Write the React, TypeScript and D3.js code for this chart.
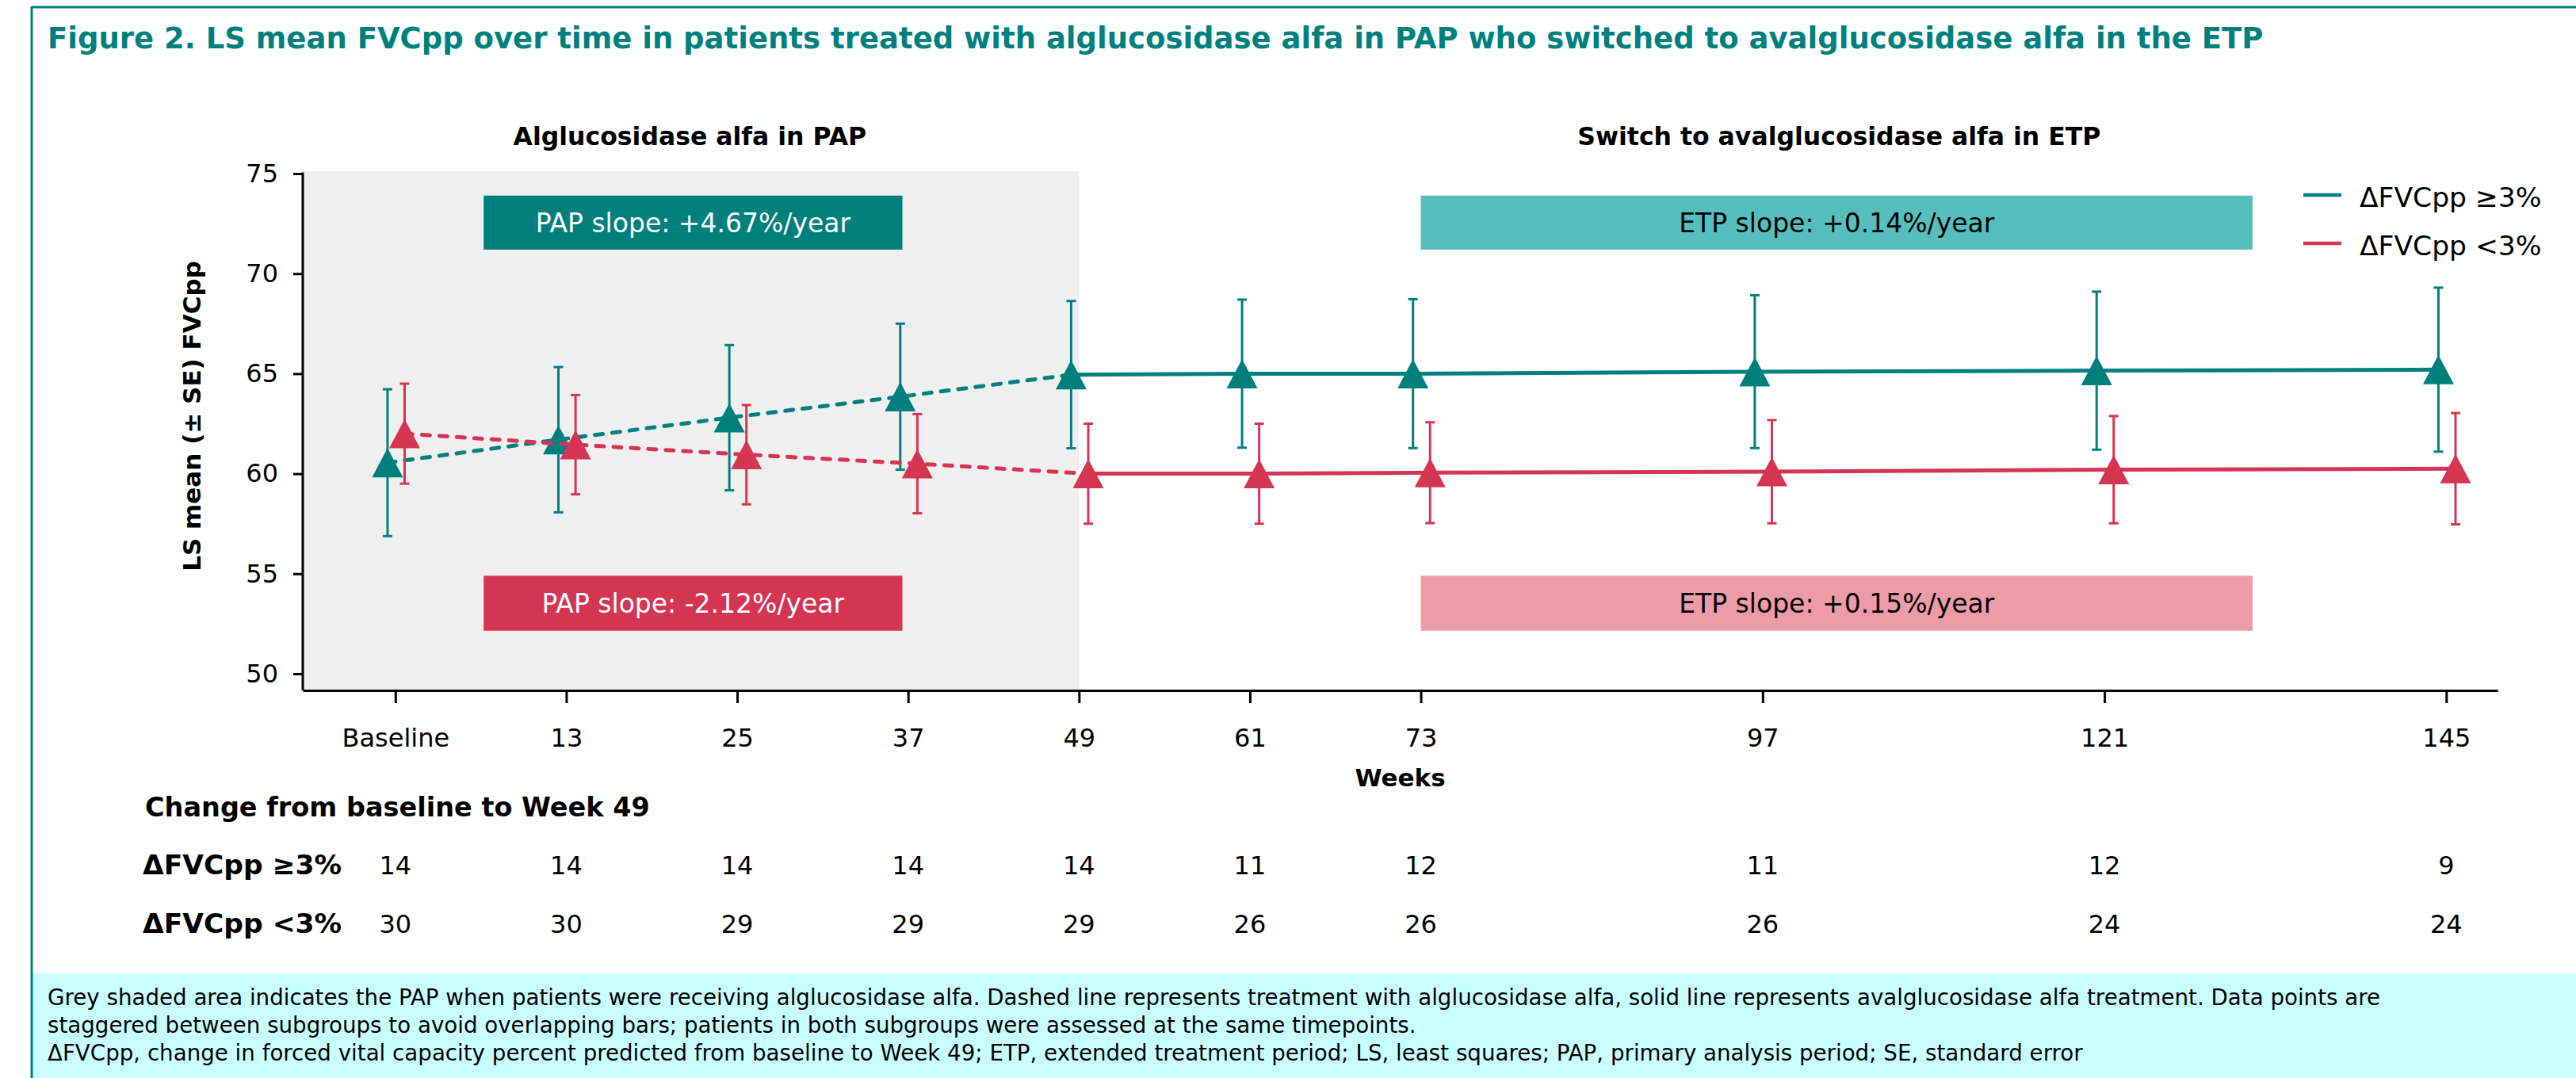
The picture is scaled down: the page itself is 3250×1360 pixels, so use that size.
import React, { useEffect, useRef } from 'react';
import * as d3 from 'd3';

// Timepoints (weeks) and their axis labels
const weeks = [1, 13, 25, 37, 49, 61, 73, 97, 121, 145];
const weekLabels = ['Baseline', '13', '25', '37', '49', '61', '73', '97', '121', '145'];

// LS mean FVCpp and SE, ΔFVCpp ≥3% subgroup
const highMean = [60.55, 61.7, 62.8, 63.85, 64.95, 65.0, 65.0, 65.1, 65.15, 65.2];
const highSE = [3.67, 3.63, 3.63, 3.65, 3.68, 3.7, 3.72, 3.82, 3.95, 4.1];

// LS mean FVCpp and SE, ΔFVCpp <3% subgroup
const lowMean = [62.0, 61.45, 60.95, 60.5, 60.0, 60.0, 60.05, 60.1, 60.2, 60.25];
const lowSE = [2.5, 2.48, 2.48, 2.48, 2.5, 2.5, 2.52, 2.58, 2.68, 2.78];

// Number of patients at each timepoint
const highN = [14, 14, 14, 14, 14, 11, 12, 11, 12, 9];
const lowN = [30, 30, 29, 29, 29, 26, 26, 26, 24, 24];

const yTicks = [50, 55, 60, 65, 70, 75];
const switchWeek = 49;

const TEAL = '#00807d';
const RED = '#d43552';
const TEAL_LIGHT = '#56bfbe';
const PINK = '#ee9ba9';
const FONT = '"DejaVu Sans", Verdana, sans-serif';

const footnote = [
  'Grey shaded area indicates the PAP when patients were receiving alglucosidase alfa. Dashed line represents treatment with alglucosidase alfa, solid line represents avalglucosidase alfa treatment. Data points are',
  'staggered between subgroups to avoid overlapping bars; patients in both subgroups were assessed at the same timepoints.',
  'ΔFVCpp, change in forced vital capacity percent predicted from baseline to Week 49; ETP, extended treatment period; LS, least squares; PAP, primary analysis period; SE, standard error',
];

interface Series {
  name: string;
  color: string;
  mean: number[];
  se: number[];
  n: number[];
  offset: number; // stagger in weeks so the bars do not overlap
}

const series: Series[] = [
  { name: 'ΔFVCpp ≥3%', color: TEAL, mean: highMean, se: highSE, n: highN, offset: -0.55 },
  { name: 'ΔFVCpp <3%', color: RED, mean: lowMean, se: lowSE, n: lowN, offset: 0.65 },
];

export default function App() {
  const svgRef = useRef<SVGSVGElement>(null);

  useEffect(() => {
    if (!svgRef.current) return;
    const svg = d3.select(svgRef.current);
    svg.selectAll('*').remove();

    const W = 3250;
    const H = 1360;

    const x = d3.scaleLinear().domain([-5.5, 148.6]).range([382, 3151]);
    const y = d3.scaleLinear().domain([50, 75]).range([850, 219]);
    const axisY = 871;

    // frame + footnote band
    svg.append('rect').attr('x', 40).attr('y', 1228).attr('width', W - 40).attr('height', H - 1228).attr('fill', '#c9feff');
    svg.append('line').attr('x1', 40).attr('x2', W).attr('y1', 9).attr('y2', 9).attr('stroke', TEAL).attr('stroke-width', 3);
    svg.append('line').attr('x1', 40).attr('x2', 40).attr('y1', 8).attr('y2', H).attr('stroke', TEAL).attr('stroke-width', 3);

    svg.append('text')
      .attr('x', 60).attr('y', 61)
      .attr('font-size', 37).attr('font-weight', 'bold').attr('fill', TEAL)
      .text('Figure 2. LS mean FVCpp over time in patients treated with alglucosidase alfa in PAP who switched to avalglucosidase alfa in the ETP');

    // grey PAP region
    svg.append('rect')
      .attr('x', x.range()[0]).attr('y', y(75) - 3)
      .attr('width', x(switchWeek) - x.range()[0]).attr('height', axisY - y(75) + 3)
      .attr('fill', '#efefef');

    // slope boxes
    const boxes = [
      { x0: 7.2, x1: 36.6, y0: 71.2, y1: 73.9, fill: TEAL, color: '#fff', label: 'PAP slope: +4.67%/year' },
      { x0: 7.2, x1: 36.6, y0: 52.15, y1: 54.9, fill: RED, color: '#fff', label: 'PAP slope: -2.12%/year' },
      { x0: 73, x1: 131.4, y0: 71.2, y1: 73.9, fill: TEAL_LIGHT, color: '#000', label: 'ETP slope: +0.14%/year' },
      { x0: 73, x1: 131.4, y0: 52.15, y1: 54.9, fill: PINK, color: '#000', label: 'ETP slope: +0.15%/year' },
    ];
    boxes.forEach(b => {
      svg.append('rect')
        .attr('x', x(b.x0)).attr('y', y(b.y1))
        .attr('width', x(b.x1) - x(b.x0)).attr('height', y(b.y0) - y(b.y1))
        .attr('fill', b.fill);
      svg.append('text')
        .attr('x', (x(b.x0) + x(b.x1)) / 2).attr('y', (y(b.y0) + y(b.y1)) / 2 + 12)
        .attr('text-anchor', 'middle').attr('font-size', 33).attr('fill', b.color)
        .text(b.label);
    });

    // period headings
    svg.append('text')
      .attr('x', (x(7.2) + x(36.6)) / 2 - 4).attr('y', 183)
      .attr('text-anchor', 'middle').attr('font-size', 31.5).attr('font-weight', 'bold')
      .text('Alglucosidase alfa in PAP');
    svg.append('text')
      .attr('x', (x(73) + x(131.4)) / 2 + 3).attr('y', 183)
      .attr('text-anchor', 'middle').attr('font-size', 31.5).attr('font-weight', 'bold')
      .text('Switch to avalglucosidase alfa in ETP');

    // axes
    const yAxis = svg.append('g')
      .attr('transform', `translate(${x.range()[0]},0)`)
      .call(d3.axisLeft(y).tickValues(yTicks).tickSize(12).tickPadding(19));
    yAxis.select('.domain').remove();
    yAxis.selectAll('line').attr('stroke-width', 3);
    yAxis.selectAll('text').attr('font-size', 32).attr('font-family', FONT);
    svg.append('line')
      .attr('x1', x.range()[0]).attr('x2', x.range()[0])
      .attr('y1', y(75) - 1.5).attr('y2', axisY)
      .attr('stroke', '#000').attr('stroke-width', 3);

    const xAxis = svg.append('g')
      .attr('transform', `translate(0,${axisY})`)
      .call(d3.axisBottom(x).tickValues(weeks).tickFormat((_, i) => weekLabels[i]).tickSize(16).tickPadding(32).tickSizeOuter(0));
    xAxis.select('.domain').attr('stroke-width', 3);
    xAxis.selectAll('line').attr('stroke-width', 3);
    xAxis.selectAll('text').attr('font-size', 32).attr('font-family', FONT);

    svg.append('text')
      .attr('transform', `translate(253,525) rotate(-90)`)
      .attr('text-anchor', 'middle').attr('font-size', 31).attr('font-weight', 'bold')
      .text('LS mean (± SE) FVCpp');
    svg.append('text')
      .attr('x', (x.range()[0] + x.range()[1]) / 2).attr('y', 992)
      .attr('text-anchor', 'middle').attr('font-size', 31).attr('font-weight', 'bold')
      .text('Weeks');

    // series
    const tri = (cx: number, cy: number) => {
      const hw = 19.5, hh = 18.5;
      return `M${cx},${cy - hh}L${cx + hw},${cy + hh}L${cx - hw},${cy + hh}Z`;
    };
    series.forEach(s => {
      const pts = weeks.map((w, i) => ({ w, px: x(w + s.offset), m: s.mean[i], se: s.se[i] }));
      const g = svg.append('g');

      pts.forEach(p => {
        g.append('line')
          .attr('x1', p.px).attr('x2', p.px).attr('y1', y(p.m + p.se)).attr('y2', y(p.m - p.se))
          .attr('stroke', s.color).attr('stroke-width', 3);
        [p.m + p.se, p.m - p.se].forEach(v => {
          g.append('line')
            .attr('x1', p.px - 6).attr('x2', p.px + 6).attr('y1', y(v)).attr('y2', y(v))
            .attr('stroke', s.color).attr('stroke-width', 3);
        });
      });

      const line = d3.line<{ px: number; m: number }>().x(d => d.px).y(d => y(d.m));
      g.append('path')
        .datum(pts.filter(p => p.w <= switchWeek))
        .attr('d', line).attr('fill', 'none')
        .attr('stroke', s.color).attr('stroke-width', 5)
        .attr('stroke-linecap', 'round').attr('stroke-dasharray', '10,12');
      g.append('path')
        .datum(pts.filter(p => p.w >= switchWeek))
        .attr('d', line).attr('fill', 'none')
        .attr('stroke', s.color).attr('stroke-width', 5);

      pts.forEach(p => {
        g.append('path').attr('d', tri(p.px, y(p.m))).attr('fill', s.color);
      });
    });

    // legend
    series.forEach((s, i) => {
      const ly = 246 + i * 61;
      svg.append('line')
        .attr('x1', 2906).attr('x2', 2954).attr('y1', ly).attr('y2', ly)
        .attr('stroke', s.color).attr('stroke-width', 4.5);
      svg.append('text')
        .attr('x', 2977).attr('y', ly + 15)
        .attr('font-size', 34.5)
        .text(s.name);
    });

    // patients at risk table
    svg.append('text')
      .attr('x', 183).attr('y', 1030)
      .attr('font-size', 33.5).attr('font-weight', 'bold')
      .text('Change from baseline to Week 49');
    series.forEach((s, i) => {
      const ry = 1103 + i * 74;
      svg.append('text')
        .attr('x', 180).attr('y', ry)
        .attr('font-size', 34.5).attr('font-weight', 'bold')
        .text(s.name);
      s.n.forEach((n, j) => {
        svg.append('text')
          .attr('x', x(weeks[j])).attr('y', ry)
          .attr('text-anchor', 'middle').attr('font-size', 32)
          .text(n);
      });
    });

    // footnote
    footnote.forEach((t, i) => {
      svg.append('text')
        .attr('x', 60).attr('y', 1268 + i * 35)
        .attr('font-size', 27.7)
        .text(t);
    });
  }, []);

  return (
    <svg
      ref={svgRef}
      width={3250}
      height={1360}
      style={{ position: 'absolute', left: 0, top: 0, fontFamily: FONT, background: '#fff' }}
    />
  );
}
